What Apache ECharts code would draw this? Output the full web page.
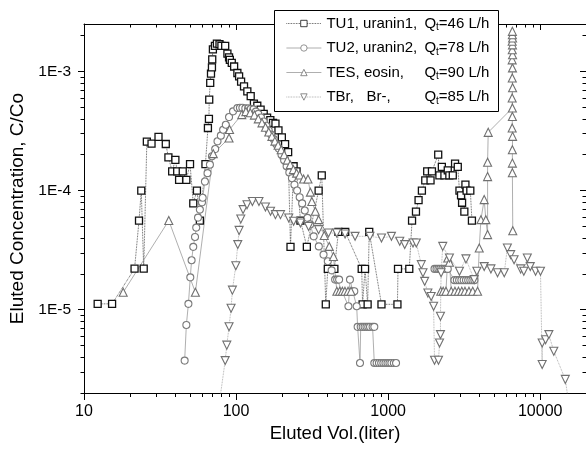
<!DOCTYPE html>
<html><head><meta charset="utf-8">
<script src="https://cdn.jsdelivr.net/npm/echarts@6/dist/echarts.min.js"></script>
<style>html,body{margin:0;padding:0;background:#fff}#c{width:586px;height:452px}</style>
</head><body><div id="c"></div>
<script>
// ---- axis ticks ----
const xMajor = [10, 100, 1000, 10000];
const xMinor = [20,30,40,50,60,70,80,90,200,300,400,500,600,700,800,900,2000,3000,4000,5000,6000,7000,8000,9000];
const yMajor = [1e-5, 1e-4, 1e-3];
const yMinor = [2e-6,3e-6,4e-6,5e-6,6e-6,7e-6,8e-6,9e-6,2e-5,3e-5,4e-5,5e-5,6e-5,7e-5,8e-5,9e-5,2e-4,3e-4,4e-4,5e-4,6e-4,7e-4,8e-4,9e-4,2e-3];

// ---- series names / legend labels ----
const seriesNames = ['TU1', 'TU2', 'TES', 'TBr'];
const legendLabels = {
  TU1: ['TU1, uranin1,', '=46 L/h'],
  TU2: ['TU2, uranin2,', '=78 L/h'],
  TES: ['TES, eosin,', '=90 L/h'],
  TBr: ['TBr,   Br-,', '=85 L/h']
};

// ---- data: [eluted volume (L), C/Co] ----
const tu1 = [[12.3,1.12e-5],[15.3,1.12e-5],[21.5,2.21e-5],[23.0,5.59e-5],[23.8,1.0e-4],[24.7,2.21e-5],[25.9,2.57e-4],[27.8,2.48e-4],[30.9,2.82e-4],[34.5,2.46e-4],[35.9,1.9e-4],[38.0,1.45e-4],[39.9,1.81e-4],[41.0,1.45e-4],[42.2,1.23e-4],[44.6,1.45e-4],[47.1,1.23e-4],[49.8,1.67e-4],[52.3,7.8e-5],[55.3,1.0e-4],[57.8,5.6e-5],[62.9,1.67e-4],[65.3,3.35e-4],[66.3,4.0e-4],[66.6,5.79e-4],[67.6,8.0e-4],[68.4,9.6e-4],[69.4,1.08e-3],[69.7,1.26e-3],[70.4,1.53e-3],[72.6,1.64e-3],[74.8,1.71e-3],[77.8,1.69e-3],[80.1,1.64e-3],[84.8,1.64e-3],[87.7,1.41e-3],[89.9,1.31e-3],[91.0,1.25e-3],[93.7,1.18e-3],[97.1,1.10e-3],[102,9.7e-4],[104.7,9.1e-4],[107.9,8.2e-4],[112.8,7.5e-4],[118.6,6.8e-4],[124.8,6.2e-4],[131,5.36e-4],[137.9,5.15e-4],[145,4.77e-4],[152,4.4e-4],[160,4.1e-4],[168,3.9e-4],[175,3.7e-4],[181.6,3.64e-4],[190,3.2e-4],[200,2.8e-4],[210,2.45e-4],[220,2.1e-4],[228,3.37e-5],[239,1.6e-4],[250,1.45e-4],[265,5.6e-5],[292,3.37e-5],[349,1.0e-4],[366,1.34e-4],[389,1.11e-5],[401,2.2e-5],[443,2.2e-5],[471,4.5e-5],[522,4.5e-5],[670,2.2e-5],[679,1.11e-5],[705,2.2e-5],[733,1.11e-5],[751,4.5e-5],[904,1.11e-5],[1151,1.11e-5],[1161,2.2e-5],[1377,2.2e-5],[1436,5.6e-5],[1524,6.65e-5],[1585,8.3e-5],[1667,1.0e-4],[1754,1.22e-4],[1806,1.45e-4],[1900,1.22e-4],[1941,1.45e-4],[2134,2.0e-4],[2173,1.34e-4],[2255,1.58e-4],[2344,1.34e-4],[2466,1.48e-4],[2526,1.34e-4],[2661,1.34e-4],[2754,1.68e-4],[2870,1.58e-4],[2944,1.0e-4],[3015,9.1e-5],[3063,7.9e-5],[3170,6.65e-5],[3222,1.12e-4],[3281,1.0e-4],[3470,1.0e-4],[3556,5.6e-5]];

const tu2 = [[45.9,3.74e-6],[47.1,7.45e-6],[48.6,1.12e-5],[50.0,1.87e-5],[51.0,2.6e-5],[52.3,3.37e-5],[53.7,4.08e-5],[54.7,4.89e-5],[56.2,5.93e-5],[57.8,6.92e-5],[59.7,7.97e-5],[60.3,8.7e-5],[62.4,1.19e-4],[64.9,1.4e-4],[67.3,1.65e-4],[69.4,1.94e-4],[72.9,2.23e-4],[75.5,2.59e-4],[79.4,2.89e-4],[82.2,3.24e-4],[85.6,3.57e-4],[89.9,4.14e-4],[95.5,4.62e-4],[102,4.93e-4],[106,4.95e-4],[110,4.95e-4],[115,4.9e-4],[120,4.9e-4],[125,4.85e-4],[130,4.8e-4],[135,4.6e-4],[140,4.4e-4],[146,4.1e-4],[152,3.8e-4],[158,3.5e-4],[164,3.2e-4],[170,2.95e-4],[177,2.7e-4],[184,2.45e-4],[191,2.25e-4],[199,2.0e-4],[207,1.8e-4],[215,1.6e-4],[224,1.42e-4],[233,1.27e-4],[242,1.12e-4],[252,1.0e-4],[262,8.8e-5],[272,7.8e-5],[283,6.8e-5],[295,5.9e-5],[307,5.2e-5],[324,4.13e-5],[350,3.4e-5],[376,2.9e-5],[401,2.55e-5],[425,2.14e-5],[448,1.79e-5],[462,1.79e-5],[476,1.79e-5],[548,1.07e-5],[561,1.79e-5],[585,1.43e-5],[599,1.43e-5],[621,1.07e-5],[630,7.18e-6],[653,3.57e-6],[660,7.18e-6],[680,7.18e-6],[700,7.18e-6],[720,7.18e-6],[740,7.18e-6],[760,7.18e-6],[790,7.18e-6],[811,7.18e-6],[811,3.57e-6],[840,3.57e-6],[870,3.57e-6],[900,3.57e-6],[930,3.57e-6],[960,3.57e-6],[990,3.57e-6],[1020,3.57e-6],[1050,3.57e-6],[1090,3.57e-6],[1127,3.57e-6],null,[2018,2.2e-5],[2080,2.2e-5],[2140,2.2e-5],[2200,2.2e-5],[2270,2.2e-5],[2340,2.2e-5],[2400,2.2e-5],[2466,2.2e-5],[2729,1.77e-5],[2830,1.77e-5],[2930,1.77e-5],[3030,1.77e-5],[3140,1.77e-5],[3250,1.77e-5],[3360,1.77e-5],[3470,1.77e-5],[3580,1.77e-5],[3690,1.77e-5]];

const tes = [[18.1,1.4e-5],[36.1,5.6e-5],[54.0,1.4e-5],[70.8,2.04e-4],[89.9,2.76e-4],[90.6,3.25e-4],[109,4.34e-4],[116,4.6e-4],[124,4.5e-4],[132,4.3e-4],[140,4.0e-4],[148,3.7e-4],[156,3.4e-4],[164,3.1e-4],[172,2.85e-4],[180,2.6e-4],[189,2.4e-4],[198,2.2e-4],[207,2.0e-4],[217,1.8e-4],[227,1.65e-4],[238,1.5e-4],[250,1.4e-4],[262,1.35e-4],[278,1.25e-4],[297,1.25e-4],[308,9.7e-5],[315,8.1e-5],[332,6.7e-5],[349,5.7e-5],[380,4.2e-5],[410,3.4e-5],[437,2.8e-5],[460,1.43e-5],[480,1.43e-5],[500,1.43e-5],[520,1.43e-5],[545,1.43e-5],[570,1.43e-5],null,[2218,1.43e-5],[2300,1.43e-5],[2400,1.43e-5],[2466,2.72e-5],[2530,2.5e-5],[2600,1.43e-5],[2750,1.43e-5],[2900,1.43e-5],[3050,1.43e-5],[3200,1.43e-5],[3400,1.43e-5],[3600,1.43e-5],[3873,1.43e-5],[3972,3.3e-5],[4074,5.7e-5],[4281,8.4e-5],[4389,5.7e-5],[4508,4.27e-5],[4508,1.31e-4],[4508,1.73e-4],[4550,3.08e-4],[6561,4.93e-4],[6540,5.98e-4],[6580,7.3e-4],[6550,8.8e-4],[6570,1.07e-3],[6540,1.25e-3],[6580,1.38e-3],[6550,1.52e-3],[6570,1.67e-3],[6540,1.79e-3],[6580,1.91e-3],[6560,2.03e-3],[6560,2.17e-3],[6560,4.19e-4],[6540,3.35e-4],[6580,2.85e-4],[6560,2.2e-4],[6560,1.7e-4],[6560,1.41e-4],[6600,4.6e-5]];

const tbr = [[75,1.2e-6],[84.8,3.74e-6],[86.9,5.04e-6],[89.9,7.2e-6],[92.7,1.03e-5],[94.6,1.46e-5],[99.6,2.34e-5],[102.6,3.52e-5],[104.7,4.63e-5],[107.4,5.78e-5],[111.2,6.92e-5],[118,7.6e-5],[128,8.1e-5],[141.4,8.1e-5],[156,7.28e-5],[168.5,6.7e-5],[181.6,6.28e-5],[196,6.28e-5],[222,5.89e-5],[239,5.52e-5],[265,5.35e-5],[300,5.0e-5],[349,4.7e-5],[405,4.4e-5],[459,4.4e-5],[521,4.32e-5],[606,4.13e-5],[759,4.13e-5],[904,4.0e-5],[1051,4.13e-5],[1192,3.75e-5],[1285,3.52e-5],[1457,3.63e-5],[1531,3.63e-5],[1652,2.39e-5],[1694,2.04e-5],[1738,1.73e-5],[1825,1.38e-5],[1918,1.29e-5],[1990,1.07e-5],[2018,3.77e-6],[2143,3.77e-6],[2177,5.26e-6],[2208,6.18e-6],[2208,8.81e-6],[2229,2.04e-5],[2286,3.4e-5],[2529,2.72e-5],[2944,2.1e-5],[3248,2.67e-5],[3677,1.79e-5],[3830,2.1e-5],[4281,2.3e-5],[4740,2.2e-5],[5240,2.04e-5],[5800,2.04e-5],[6081,3.3e-5],[6393,2.9e-5],[6730,2.63e-5],[7436,2.2e-5],[7800,2.1e-5],[8224,2.72e-5],[8600,2.3e-5],[9320,2.1e-5],[10040,2.1e-5],[10300,3.47e-6],[10300,5.26e-6],[10840,5.6e-6],[11400,6.18e-6],[12280,4.48e-6],[14620,2.6e-6],[15800,1.3e-6]];

const FONT = '"Liberation Sans", Arial, sans-serif';
const XMIN = 10, XMAX = 20000, YMIN = 2e-6, YMAX = 2.5e-3;

function logAxis(extra) {
  return Object.assign({
    type: 'log', logBase: 10,
    splitLine: { show: false }, minorTick: { show: false }, minorSplitLine: { show: false },
    axisLine: { show: false }, axisLabel: { show: false }
  }, extra);
}
const axLine = { show: true, onZero: false, lineStyle: { color: '#000', width: 1 } };
const tickStyle = { color: '#000', width: 1 };

const xAxes = [
  logAxis({ min: XMIN, max: XMAX, position: 'bottom', axisLine: axLine,
    axisTick: { show: true, inside: false, length: 7, customValues: xMajor, lineStyle: tickStyle },
    axisLabel: { show: true, customValues: xMajor, margin: 11, fontSize: 16, color: '#000', fontFamily: FONT,
      formatter: v => String(Math.round(v)) },
    name: 'Eluted Vol.(liter)', nameLocation: 'middle', nameGap: 28,
    nameTextStyle: { fontSize: 18.5, color: '#000', fontFamily: FONT } }),
  logAxis({ min: XMIN, max: XMAX, position: 'bottom',
    axisTick: { show: true, inside: false, length: 4, customValues: xMinor, lineStyle: tickStyle } }),
  logAxis({ min: XMIN, max: XMAX, position: 'top', axisLine: axLine,
    axisTick: { show: true, inside: true, length: 6, customValues: xMajor, lineStyle: tickStyle } }),
  logAxis({ min: XMIN, max: XMAX, position: 'top',
    axisTick: { show: true, inside: true, length: 3.5, customValues: xMinor, lineStyle: tickStyle } })
];
const yAxes = [
  logAxis({ min: YMIN, max: YMAX, position: 'left', axisLine: axLine,
    axisTick: { show: true, inside: false, length: 6, customValues: yMajor, lineStyle: tickStyle },
    axisLabel: { show: true, customValues: yMajor, margin: 13, fontSize: 15.5, color: '#000', fontFamily: FONT,
      formatter: v => '1E' + Math.round(Math.log10(v)) },
    name: 'Eluted Concentration, C/Co', nameLocation: 'middle', nameGap: 50,
    nameTextStyle: { fontSize: 19, color: '#000', fontFamily: FONT } }),
  logAxis({ min: YMIN, max: YMAX, position: 'left',
    axisTick: { show: true, inside: false, length: 3.5, customValues: yMinor, lineStyle: tickStyle } }),
  logAxis({ min: YMIN, max: YMAX, position: 'right', axisLine: axLine,
    axisTick: { show: true, inside: true, length: 6, customValues: yMajor, lineStyle: tickStyle } }),
  logAxis({ min: YMIN, max: YMAX, position: 'right',
    axisTick: { show: true, inside: true, length: 3.5, customValues: yMinor, lineStyle: tickStyle } })
];

function mkSeries(name, data, symbol, rotate, markColor, lineColor, lineType, size, bw) {
  return {
    name: name, type: 'line', data: data, xAxisIndex: 0, yAxisIndex: 0,
    symbol: symbol, symbolSize: size, symbolRotate: rotate, showSymbol: true,
    connectNulls: false, clip: true, animation: false, smooth: false,
    itemStyle: { color: '#fff', borderColor: markColor, borderWidth: bw },
    lineStyle: { color: lineColor, width: 0.8, type: lineType },
    emphasis: { disabled: true }
  };
}

const option = {
  animation: false,
  backgroundColor: '#fff',
  grid: { left: 84, top: 24, right: -3, bottom: 59, containLabel: false },
  xAxis: xAxes,
  yAxis: yAxes,
  graphic: [{ type: 'rect', z: 5, shape: { x: 274.5, y: 10.5, width: 224, height: 101 },
    style: { fill: '#fff', stroke: '#000', lineWidth: 1 } }],
  legend: {
    z: 10, orient: 'vertical', left: 286, top: 14.5, padding: 0,
    itemWidth: 35, itemHeight: 8, itemGap: 6.5, selectedMode: false,
    data: seriesNames,
    lineStyle: { width: 0.8 },
    itemStyle: { borderWidth: 0.8 },
    formatter: name => '{a|' + legendLabels[name][0] + '}{b|Q}{s|t}{b|' + legendLabels[name][1] + '}',
    textStyle: {
      fontFamily: FONT, fontSize: 15, color: '#000', lineHeight: 18,
      rich: {
        a: { fontFamily: FONT, fontSize: 15, color: '#000', width: 98, lineHeight: 18 },
        b: { fontFamily: FONT, fontSize: 15, color: '#000', lineHeight: 18 },
        s: { fontFamily: FONT, fontSize: 10, color: '#000', verticalAlign: 'bottom', lineHeight: 10 }
      }
    }
  },
  series: [
    mkSeries('TU1', tu1, 'rect', 0, '#111', '#333', 'dotted', 7, 1.3),
    mkSeries('TU2', tu2, 'circle', 0, '#7a7a7a', '#9a9a9a', 'solid', 7, 1.1),
    mkSeries('TES', tes, 'triangle', 0, '#707070', '#9a9a9a', 'solid', 8, 1.1),
    mkSeries('TBr', tbr, 'triangle', 180, '#707070', '#999', 'dotted', 8, 1.1)
  ]
};
const chart = echarts.init(document.getElementById('c'), null, { renderer: 'canvas' });
chart.setOption(option);
</script></body></html>
